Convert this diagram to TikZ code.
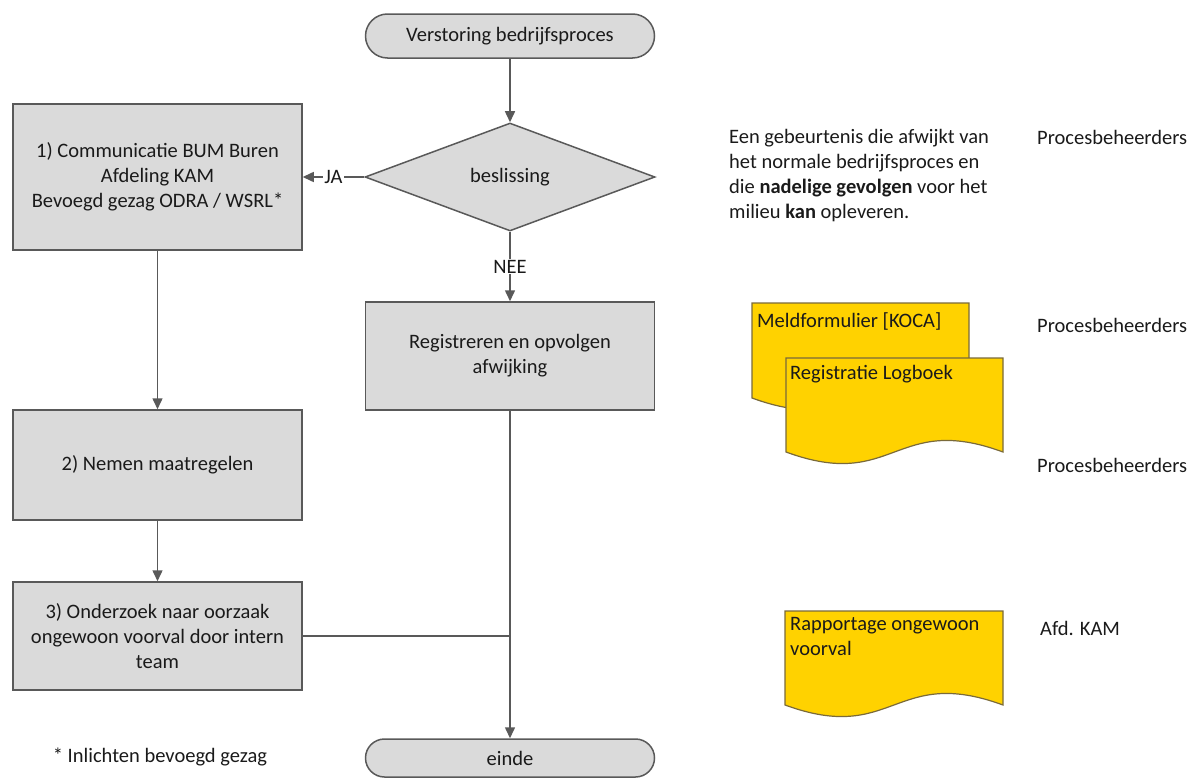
\documentclass[tikz,border=0pt]{standalone}
\usepackage{fontspec}
\setmainfont{Carlito}
\usetikzlibrary{arrows.meta,shapes.geometric}

\definecolor{boxgray}{HTML}{DADADA}
\definecolor{linegray}{HTML}{595959}
\definecolor{docyellow}{HTML}{FFD200}
\definecolor{docedge}{HTML}{7A6A3A}
\definecolor{textdark}{HTML}{1A1A1A}

% document shape: left, top, right, bottom
\newcommand{\docpath}[4]{%
  \draw[doc] (#1,#2) -- (#3,#2) -- (#3,#4)
    .. controls ({#3-0.5*(#3-#1)},{#4-40}) and ({#1+0.5*(#3-#1)},{#4+40}) .. (#1,#4) -- cycle;}

\begin{document}
\begin{tikzpicture}[x=1pt,y=-1pt,
  font=\fontsize{20.5}{25}\selectfont,
  every node/.style={text=textdark},
  proc/.style={draw=linegray,line width=1.5pt,fill=boxgray,minimum width=289pt,align=center,inner sep=2pt},
  term/.style={draw=linegray,line width=1.5pt,fill=boxgray,minimum width=289pt},
  decision/.style={diamond,draw=linegray,line width=1.5pt,fill=boxgray,minimum width=290pt,minimum height=108pt,inner sep=0pt},
  flow/.style={draw=linegray,line width=1.5pt,-{Triangle[length=11pt,width=10pt]}},
  plain/.style={draw=linegray,line width=1.5pt},
  lbl/.style={fill=white,inner sep=1pt},
  doc/.style={draw=docedge,line width=1.2pt,fill=docyellow},
  doctext/.style={anchor=west,align=left,inner sep=0pt},
  side/.style={anchor=west,inner sep=0pt}
  ]
\useasboundingbox (0,0) rectangle (1194,779);

% flow
\node[term, minimum height=44pt, rounded corners=22pt] (Start) at (510,36) {Verstoring bedrijfsproces};
\node[decision] (Dec) at (510,177) {beslissing};
\node[proc, minimum height=146pt] (Comm) at (157.5,177) {1) Communicatie BUM Buren\\Afdeling KAM\\Bevoegd gezag ODRA / WSRL*};
\node[proc, minimum height=110pt] (Maat) at (157.5,465) {2) Nemen maatregelen};
\node[proc, minimum height=108pt] (Onderzoek) at (157.5,636) {3) Onderzoek naar oorzaak\\ongewoon voorval door intern\\team};
\node[proc, minimum height=108pt] (Reg) at (510,356) {Registreren en opvolgen\\afwijking};
\node[term, minimum height=38pt, rounded corners=19pt] (End) at (510,758) {einde};
\node (Note) at (160,757) {* Inlichten bevoegd gezag};

\draw[flow] (Start) -- (Dec);
\draw[flow] (Dec.west) -- node[lbl]{JA} (Dec.west -| Comm.east);
\draw[flow] (Dec) -- node[lbl]{NEE} (Reg);
\draw[flow] (Comm) -- (Maat);
\draw[flow] (Maat) -- (Onderzoek);
\draw[flow] (Reg) -- (End);
\draw[plain] (Onderzoek.east) -- (Onderzoek.east -| Reg.south);

% right side
\node[anchor=north west, align=left, inner sep=0pt] (Def) at (729,129) {Een gebeurtenis die afwijkt van\\het normale bedrijfsproces en\\die \textbf{nadelige gevolgen} voor het\\milieu \textbf{kan} opleveren.};

\docpath{752}{303}{969}{398}
\node[doctext] (Meld) at (757,321) {Meldformulier [KOCA]};
\docpath{786}{358}{1003}{452}
\node[doctext] (Logboek) at (790,374) {Registratie Logboek};
\docpath{785}{611}{1003}{705}
\node[doctext, anchor=north west] (Rapport) at (790,617) {Rapportage ongewoon\\voorval};

\node[side] (Beh1) at (1037,137) {Procesbeheerders};
\node[side] (Beh2) at (1037,325) {Procesbeheerders};
\node[side] (Beh3) at (1037,465) {Procesbeheerders};
\node[side] (Kam) at (1040,628) {Afd. KAM};
\end{tikzpicture}
\end{document}
